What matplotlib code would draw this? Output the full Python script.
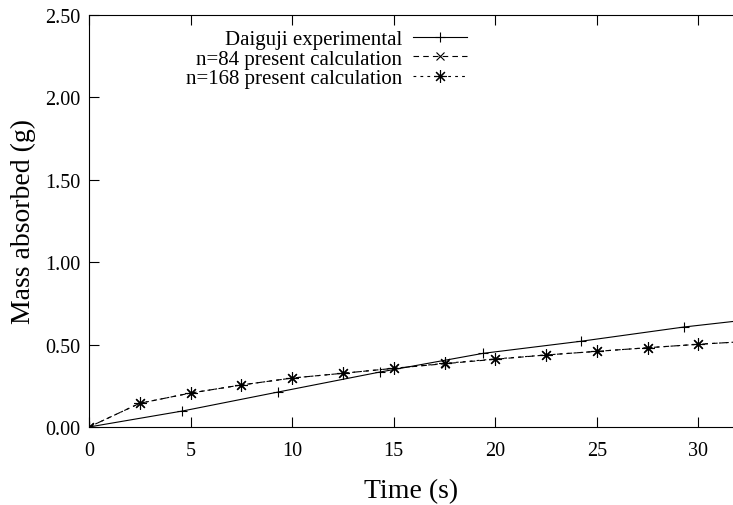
import matplotlib
matplotlib.use("Agg")
import matplotlib.pyplot as plt
import numpy as np

# values
exp_time = [0, 4.6, 9.3, 14.3, 19.4, 24.2, 29.3, 34.2]
exp_mass = [0, 0.097, 0.212, 0.333, 0.447, 0.52, 0.607, 0.675]

calc_time = [0, 2.5, 5, 7.5, 10, 12.5, 15, 17.5, 20, 22.5, 25, 27.5, 30, 32.5]
n84_mass = [0, 0.144, 0.206, 0.255, 0.297, 0.326, 0.356, 0.384, 0.411, 0.437, 0.459, 0.481, 0.502, 0.52]
n168_mass = [0, 0.144, 0.206, 0.255, 0.297, 0.326, 0.356, 0.386, 0.413, 0.437, 0.459, 0.481, 0.502, 0.52]

xticks = [0, 5, 10, 15, 20, 25, 30]
yticks = [0.0, 0.5, 1.0, 1.5, 2.0, 2.5]

plt.rcParams['font.family'] = ['Liberation Serif', 'DejaVu Serif']
plt.rcParams['lines.scale_dashes'] = False

fig = plt.figure(figsize=(7.33, 5.06), dpi=100)
ax = fig.add_axes([89/733, 1 - 428/506, 1 - 89/733, (428 - 16)/506])

lw = 0.8
ax.plot(exp_time, exp_mass, color='black', lw=lw, marker='+', ms=7,
        mew=lw, label='Daiguji experimental')
ax.plot(calc_time, n84_mass, color='black', lw=lw, ls=(0, (4, 3)),
        marker='x', ms=6, mew=lw, label='n=84 present calculation')
ax.plot(calc_time, n168_mass, color='black', lw=lw, ls=(0, (2, 3)),
        marker=(8, 2, 0), ms=9, mew=lw, label='n=168 present calculation')

ax.set_xlim(0, 31.7)
ax.set_ylim(0, 2.5)
ax.set_xticks(xticks)
ax.set_yticks(yticks)
ax.set_yticklabels(['%.2f' % v for v in yticks])
ax.tick_params(direction='in', length=7, width=lw, labelsize=14.5,
               top=True, right=False)
ax.tick_params(axis='x', pad=10)
ax.tick_params(axis='y', pad=6)
for s in ['left', 'bottom', 'top']:
    ax.spines[s].set_linewidth(lw)
ax.spines['right'].set_visible(False)

ax.set_xlabel('Time (s)', fontsize=20, labelpad=13)
ax.set_ylabel('Mass absorbed (g)', fontsize=20, labelpad=7)

leg = ax.legend(loc='upper right', bbox_to_anchor=((467 - 89)/644, 0.965),
                frameon=False, markerfirst=False, fontsize=15,
                handlelength=2.6, handletextpad=0.5, labelspacing=0.0,
                borderpad=0, borderaxespad=0, numpoints=1)

fig.savefig('out.png', dpi=100)
